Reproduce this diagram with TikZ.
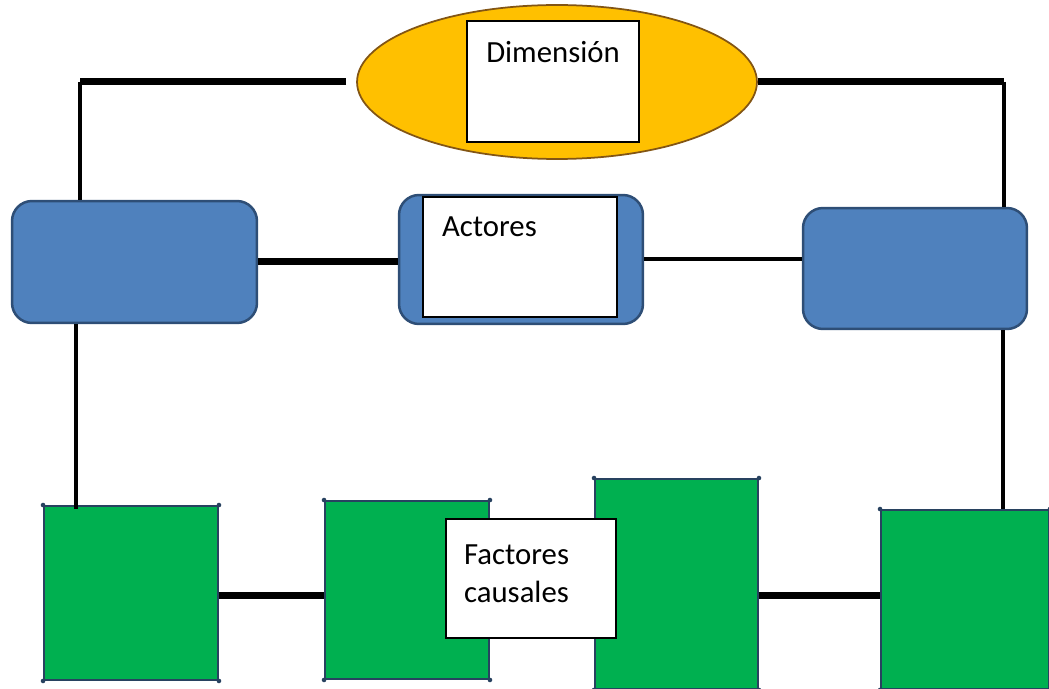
\documentclass[tikz,border=0pt]{standalone}
\usepackage{fontspec}
\setmainfont{Carlito}
\usepackage{tikz}
\usetikzlibrary{calc, positioning}
\usetikzlibrary{shapes.geometric}
\definecolor{dimorange}{RGB}{255,192,0}
\definecolor{dimedge}{RGB}{130,85,20}
\definecolor{actblue}{RGB}{79,129,189}
\definecolor{actedge}{RGB}{46,78,118}
\definecolor{facgreen}{RGB}{0,176,80}
\definecolor{facedge}{RGB}{40,66,96}
\def\thickw{0.14cm}
\def\thinw{0.08cm}
\def\rr{0.4cm}
\tikzset{
    dimension/.style = {
        draw=dimedge, fill=dimorange, ellipse, line width=0.035cm, inner sep=0
    },
    actor/.style = {
        draw=actedge, fill=actblue, rectangle, rounded corners=\rr, line width=0.05cm
    },
    factor/.style = {
        draw=facedge, fill=facgreen, rectangle, line width=0.04cm
    },
    textbox/.style = {
        draw=black, fill=white, rectangle, line width=0.05cm
    },
    lbl/.style = {
        inner sep=0, align=left, font={\fontsize{17.5}{20}\selectfont}
    },
    bigline/.style = {line width=\thickw},
    smallline/.style = {line width=\thinw}
}
\begin{document}
\begin{tikzpicture}[x=0.02cm, y=-0.02cm]
        \useasboundingbox (0,0) rectangle (1049,689);
        % Place the blocks
        \node[dimension, minimum width=8cm, minimum height=3.08cm] (dim) at (557,82) {};
        \node[textbox, minimum width=3.44cm, minimum height=2.42cm] (dbox) at (553,81.5) {};
        \node[lbl] (dimlbl) at ([yshift=-0.64cm] dbox.north) {Dimensión};

        \node[actor, minimum width=4.9cm, minimum height=2.44cm] (lblue) at (134.5,262) {};
        \node[actor, minimum width=4.88cm, minimum height=2.58cm] (mblue) at (521,259.5) {};
        \node[actor, minimum width=4.48cm, minimum height=2.42cm] (rblue) at (915,268.5) {};
        \node[textbox, minimum width=3.88cm, minimum height=2.4cm] (abox) at (520,257) {};
        \node[lbl, anchor=west] (actlbl) at ([xshift=0.4cm, yshift=-0.62cm] abox.north west) {Actores};

        \node[factor, minimum width=3.48cm, minimum height=3.48cm] (g1) at (131,593) {};
        \node[factor, minimum width=3.28cm, minimum height=3.56cm] (g2) at (407,590) {};
        \node[factor, minimum width=3.26cm, minimum height=4.2cm] (g3) at (676.5,584) {};
        \node[factor, minimum width=3.36cm, minimum height=3.58cm] (g4) at (965,599.5) {};
        \node[textbox, minimum width=3.4cm, minimum height=2.38cm] (fbox) at (531,578.5) {};
        \node[lbl, anchor=west] (faclbl) at ([xshift=0.38cm, yshift=-1.12cm] fbox.north west) {Factores\\[0.05cm]causales};

        % corner dots of the green blocks
        \foreach \g in {g1, g2, g3, g4}{
            \foreach \c in {north west, north east, south west, south east}{
                \fill[facedge] (\g.\c) circle (1.3pt);
            }
        }

        % Connect the blocks
        \coordinate (tl) at (80,82);
        \coordinate (tr) at (1004,82);
        \coordinate (lb) at (76,0);
        \coordinate (rb) at (1003,0);
        \draw[bigline] ([xshift=-0.2cm] dim.west) -- (tl);
        \draw[smallline] (tl) -- (tl |- lblue.north);
        \draw[bigline] (dim.east) -- (tr);
        \draw[smallline] (tr) -- (tr |- rblue.north);
        \draw[bigline] (lblue.east) -- (lblue.east -| mblue.west);
        \draw[smallline] (mblue.east) -- (mblue.east -| rblue.west);
        \draw[smallline] (lblue.south -| lb) -- ([yshift=-0.08cm] g1.north -| lb);
        \draw[smallline] (rblue.south -| rb) -- (g4.north -| rb);
        \draw[bigline] (g1.east |- 0,595) -- (g2.west |- 0,595);
        \draw[bigline] (g3.east |- 0,595) -- (g4.west |- 0,595);
    \end{tikzpicture}
\end{document}
